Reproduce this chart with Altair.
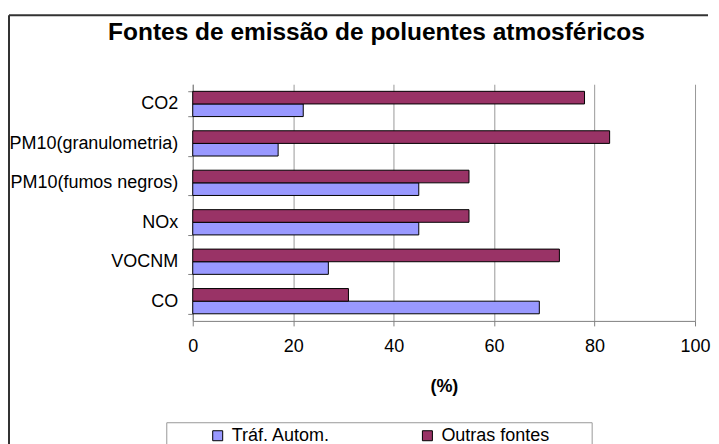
import altair as alt
import pandas as pd

categories = ["CO2", "PM10(granulometria)", "PM10(fumos negros)", "NOx", "VOCNM", "CO"]
traf = [22, 17, 45, 45, 27, 69]
outras = [78, 83, 55, 55, 73, 31]
series = ["Tráf. Autom.", "Outras fontes"]
colors = ["#9999FF", "#993366"]
title_text = "Fontes de emissão de poluentes atmosféricos"

rows = []
for c, t, o in zip(categories, traf, outras):
    rows.append({"cat": c, "serie": series[0], "val": t})
    rows.append({"cat": c, "serie": series[1], "val": o})
df = pd.DataFrame(rows)
deco = pd.DataFrame({"k": [0]})
title_df = pd.DataFrame({"t": [title_text]})

FONT = "Liberation Sans"

bars = alt.Chart(df).mark_bar(stroke="black", strokeWidth=1).encode(
    y=alt.Y("cat:N", sort=categories,
            scale=alt.Scale(paddingInner=0.36, paddingOuter=0.18),
            axis=alt.Axis(title=None, labelFontSize=18, labelFont=FONT, labelColor="black",
                          tickBand="extent", tickSize=5, tickColor="#808080",
                          domainColor="#808080", labelPadding=10, grid=False,
                          labelLimit=300)),
    yOffset=alt.YOffset("serie:N", sort=["Outras fontes", "Tráf. Autom."]),
    x=alt.X("val:Q", scale=alt.Scale(domain=[0, 100]),
            axis=alt.Axis(title="(%)", values=[0, 20, 40, 60, 80, 100], labelFontSize=18,
                          labelFont=FONT, labelColor="black", tickSize=5, tickColor="#808080",
                          domainColor="#808080", gridColor="#999999", gridWidth=1,
                          labelFlush=False, labelPadding=12, titleFontSize=18, titleFont=FONT,
                          titleFontWeight="bold", titlePadding=22, titleColor="black")),
    color=alt.Color("serie:N", scale=alt.Scale(domain=series, range=colors),
                    legend=alt.Legend(title=None, orient="none", legendX=16, legendY=343,
                                      direction="horizontal", columns=2, columnPadding=88,
                                      symbolType="square", symbolSize=100,
                                      symbolStrokeColor="black", symbolStrokeWidth=1,
                                      labelFontSize=18, labelFont=FONT, labelColor="black",
                                      labelOffset=5, padding=0)),
)

title = alt.Chart(title_df).mark_text(fontSize=24.5, font=FONT, fontWeight="bold",
                                      color="black", align="center",
                                      baseline="alphabetic").encode(
    text="t:N", x=alt.value(184), y=alt.value(-44)
)

frame_left = alt.Chart(deco).mark_rule(stroke="#333333", strokeWidth=2).encode(
    x=alt.value(-184), y=alt.value(-69), y2=alt.value(400)
)
frame_top = alt.Chart(deco).mark_rule(stroke="#333333", strokeWidth=2).encode(
    x=alt.value(-184), x2=alt.value(516), y=alt.value(-69)
)
box_top = alt.Chart(deco).mark_rule(stroke="#999999", strokeWidth=1).encode(
    x=alt.value(-26), x2=alt.value(400), y=alt.value(339)
)
box_left = alt.Chart(deco).mark_rule(stroke="#999999", strokeWidth=1).encode(
    x=alt.value(-26), y=alt.value(339), y2=alt.value(400)
)
box_right = alt.Chart(deco).mark_rule(stroke="#999999", strokeWidth=1).encode(
    x=alt.value(400), y=alt.value(339), y2=alt.value(400)
)

chart = alt.layer(frame_left, frame_top, box_top, box_left, box_right, bars, title).properties(
    width=503, height=237,
    padding={"left": 0, "top": 6, "right": 0, "bottom": 0},
).configure_view(stroke=None)

chart.save("out.html", embed_options={"renderer": "svg", "actions": False})
